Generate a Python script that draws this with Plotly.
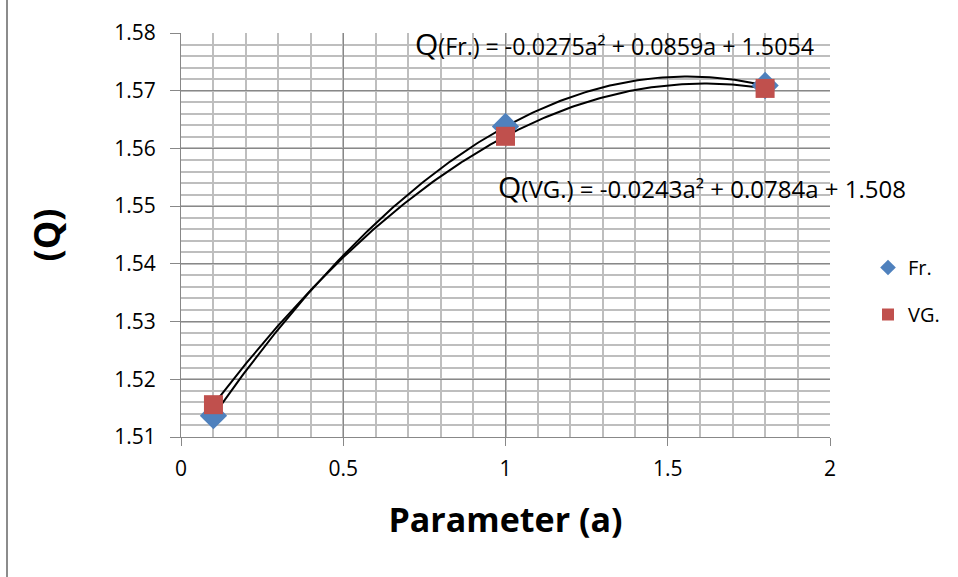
import numpy as np
import plotly.graph_objects as go

a_vals = [0.1, 1.0, 1.8]
fr_vals = [1.5137, 1.5638, 1.5709]
vg_vals = [1.5156, 1.5621, 1.5704]
x_ticks = [0, 0.5, 1, 1.5, 2]
x_tick_labels = ["0", "0.5", "1", "1.5", "2"]
y_ticks = [1.51, 1.52, 1.53, 1.54, 1.55, 1.56, 1.57, 1.58]
y_tick_labels = ["1.51", "1.52", "1.53", "1.54", "1.55", "1.56", "1.57", "1.58"]

FONT = "Open Sans"
BLUE = "#4F81BD"
RED = "#C0504D"

fig = go.Figure()

xs = np.linspace(min(a_vals), max(a_vals), 200)
for vals in (fr_vals, vg_vals):
    c = np.polyfit(a_vals, vals, 2)
    fig.add_trace(go.Scatter(x=xs, y=np.polyval(c, xs), mode="lines",
                             line=dict(color="black", width=2),
                             showlegend=False, hoverinfo="skip"))

fig.add_trace(go.Scatter(x=a_vals, y=fr_vals, mode="markers", name="Fr.", legendgroup="fr",
                         marker=dict(symbol="diamond", size=21, color=BLUE)))
fig.add_trace(go.Scatter(x=a_vals, y=vg_vals, mode="markers", name="VG.", legendgroup="vg",
                         marker=dict(symbol="square", size=19, color=RED)))

L, R, T, B = 181, 128, 33, 140
pw, ph = 958 - L - R, 577 - T - B

def px(x):
    return (x - L) / pw

def py(y):
    return (577 - B - y) / ph

fig.update_layout(
    width=958, height=577,
    margin=dict(l=L, r=R, t=T, b=B),
    paper_bgcolor="white", plot_bgcolor="white",
    font=dict(family=FONT, color="black", size=20),
    legend=dict(x=px(868), y=py(291), xanchor="left", yanchor="middle",
                font=dict(size=20, family=FONT), tracegroupgap=18,
                itemsizing="constant", itemwidth=30),
    xaxis=dict(range=[0, 2], tickvals=x_ticks, ticktext=x_tick_labels,
               showgrid=True, gridcolor="#888888", gridwidth=1,
               minor=dict(dtick=0.1, showgrid=True, gridcolor="#BEBEBE", gridwidth=1.5),
               ticks="outside", ticklen=8, tickcolor="#888888", ticklabelstandoff=5,
               showline=True, linecolor="#888888", linewidth=1, mirror=False,
               zeroline=False, tickfont=dict(size=21, family=FONT),
               title=dict(text="<b>Parameter (a)</b>", font=dict(size=34, family=FONT), standoff=26)),
    yaxis=dict(range=[1.51, 1.58], tickvals=y_ticks, ticktext=y_tick_labels,
               showgrid=True, gridcolor="#888888", gridwidth=1,
               minor=dict(dtick=0.002, showgrid=True, gridcolor="#BEBEBE", gridwidth=1.5),
               ticks="outside", ticklen=10, tickcolor="#888888", ticklabelstandoff=10,
               showline=True, linecolor="#888888", linewidth=1,
               zeroline=False, tickfont=dict(size=21, family=FONT),
               title=dict(text="<b>(Q)</b>", font=dict(size=36, family=FONT), standoff=42)),
    annotations=[
        dict(x=px(413), y=py(43), xref="paper", yref="paper", showarrow=False,
             xanchor="left", yanchor="middle",
             text="<span style='font-size:30px'>Q</span>(Fr.) = -0.0275a² + 0.0859a + 1.5054",
             font=dict(size=23.2, family=FONT)),
        dict(x=px(496), y=py(186), xref="paper", yref="paper", showarrow=False,
             xanchor="left", yanchor="middle",
             text="<span style='font-size:30px'>Q</span>(VG.) = -0.0243a² + 0.0784a + 1.508",
             font=dict(size=24, family=FONT)),
    ],
    shapes=[dict(type="line", xref="paper", yref="paper", x0=px(7), x1=px(7),
                 y0=py(577), y1=py(0), line=dict(color="#8C8C8C", width=2))],
)

fig.write_html("out.html")
